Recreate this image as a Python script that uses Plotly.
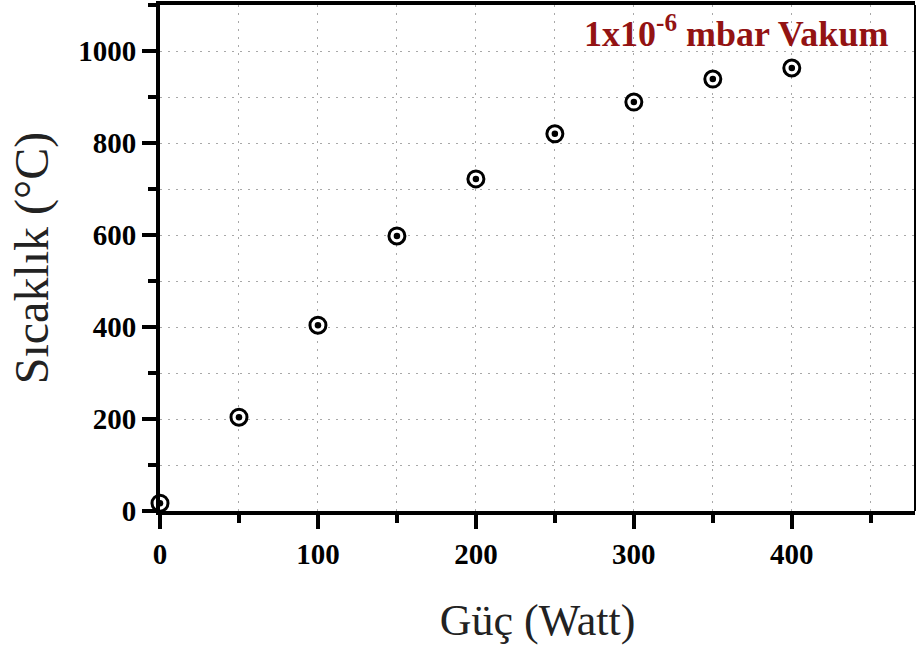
import plotly.graph_objects as go

power = [0, 50, 100, 150, 200, 250, 300, 350, 400]
temperature = [17, 204, 404, 598, 722, 820, 889, 939, 963]

x_ticks = [0, 100, 200, 300, 400]
y_ticks = [0, 200, 400, 600, 800, 1000]

fig = go.Figure()
fig.add_trace(go.Scatter(
    x=power, y=temperature, mode="markers", cliponaxis=False,
    marker=dict(symbol="circle", size=16, color="white",
                line=dict(color="black", width=3)),
    showlegend=False, hoverinfo="skip"))
fig.add_trace(go.Scatter(
    x=power, y=temperature, mode="markers", cliponaxis=False,
    marker=dict(symbol="circle", size=6.5, color="black", line=dict(width=0)),
    showlegend=False))

tickfont = dict(family="Liberation Serif", size=29, color="black", weight="bold")
grid = dict(showgrid=True, gridcolor="#a8a8a8", gridwidth=1, griddash="2px,6px")

fig.update_xaxes(
    range=[0, 478], tickvals=x_ticks, ticks="outside", ticklen=14, tickwidth=4,
    tickcolor="black", showline=True, linecolor="black", linewidth=4, mirror=True,
    tickfont=tickfont, zeroline=False,
    minor=dict(dtick=50, tick0=0, ticks="outside", ticklen=8, tickwidth=4,
               tickcolor="black", **grid),
    title=dict(text="Güç (Watt)",
               font=dict(family="Liberation Serif", size=44, color="#222"),
               standoff=36),
    **grid)
fig.update_yaxes(
    range=[0, 1100], tickvals=y_ticks, ticks="outside", ticklen=14, tickwidth=4,
    tickcolor="black", showline=True, linecolor="black", linewidth=4, mirror=False,
    tickfont=tickfont, zeroline=False,
    minor=dict(dtick=100, tick0=0, ticks="outside", ticklen=8, tickwidth=4,
               tickcolor="black", **grid),
    title=dict(text="Sıcaklık (°C)",
               font=dict(family="Liberation Serif", size=48, color="#222"),
               standoff=15),
    **grid)

fig.add_shape(type="line", xref="paper", yref="paper", x0=1, x1=1, y0=0, y1=1,
              line=dict(color="black", width=2))

fig.add_annotation(
    text="1x10<sup>-6</sup> mbar Vakum", xref="paper", yref="paper",
    x=0.967, y=0.947, xanchor="right", yanchor="middle", showarrow=False,
    font=dict(family="Liberation Serif", size=36, color="#931313", weight="bold"))

fig.update_layout(
    width=917, height=646,
    margin=dict(l=160, r=2, t=5, b=135),
    plot_bgcolor="white", paper_bgcolor="white",
)

fig.write_html("out.html", config={"displayModeBar": False},
               post_script="document.body.style.margin='0';document.body.style.padding='0';")
